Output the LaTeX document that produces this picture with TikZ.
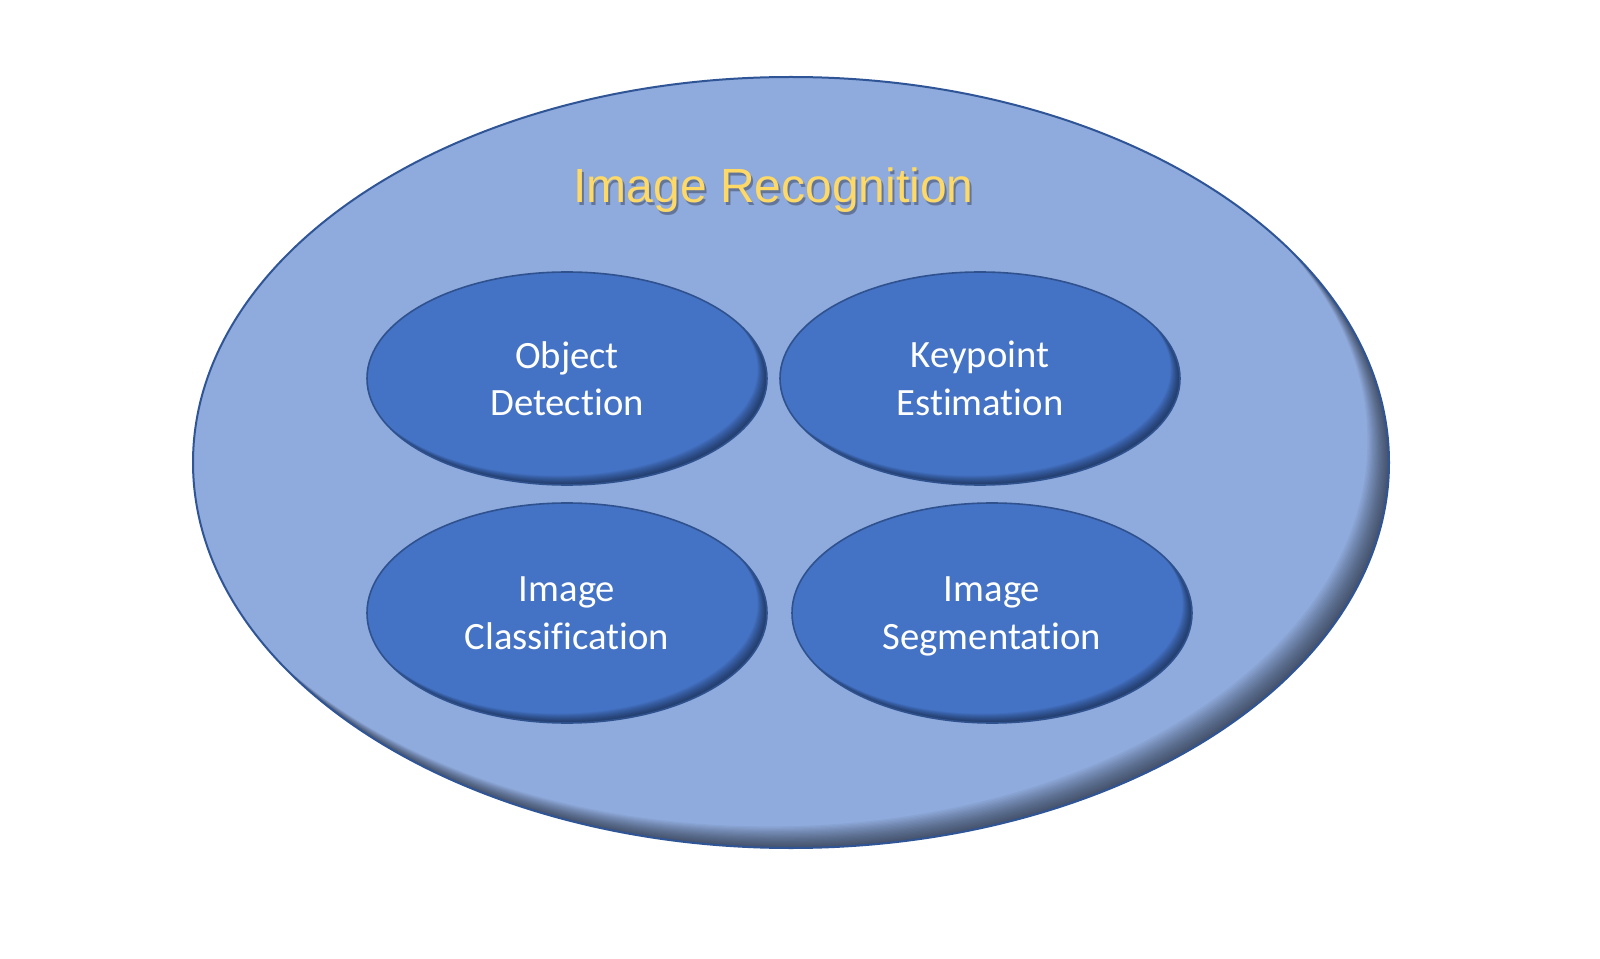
\documentclass[tikz,border=0pt]{standalone}
\usepackage{fontspec}
\setmainfont{Carlito}[Ligatures=NoCommon]
\newfontfamily\titlefont{Liberation Sans}
\usetikzlibrary{shapes.geometric}
\definecolor{outerfill}{HTML}{8FAADC}
\definecolor{outerline}{HTML}{2F5597}
\definecolor{innerfill}{HTML}{4472C4}
\definecolor{innerline}{HTML}{2F528F}
\definecolor{titlecol}{HTML}{FFD966}
\tikzset{
  inshadow/.style n args={5}{path picture={
    \foreach \k in {1,...,#5}{
      \fill[black,opacity=#4,even odd rule]
        ([shift={(-60pt,60pt)}]path picture bounding box.north west) rectangle ([shift={(60pt,-60pt)}]path picture bounding box.south east)
        ([shift={(-\k*#3,\k*#3)}]path picture bounding box.center) ellipse [x radius=#1,y radius=#2];
    }}},
  outerell/.style={ellipse, draw=outerline, line width=1.5pt, fill=outerfill, inner sep=0pt,
    minimum width=897pt, minimum height=578.25pt, inshadow={448.5pt}{289.1pt}{0.9pt}{0.035}{18}},
  innerell/.style n args={2}{ellipse, draw=innerline, line width=1.2pt, fill=innerfill, inner sep=0pt,
    minimum width=300pt, minimum height=#1, inshadow={150pt}{#2}{0.5pt}{0.04}{14},
    text=white, align=center, font=\fontsize{29}{35.8}\selectfont, text depth=0pt},
  titletext/.style={font=\titlefont\fontsize{36}{43}\selectfont, anchor=base},
}
\begin{document}
\begin{tikzpicture}[x=0.75pt,y=-0.75pt]
\useasboundingbox[fill=white] (0,0) rectangle (1600,959);
\node[outerell] (rec) at (791,462.5) {};
\node[titletext, text=black, opacity=0.3] (titleshadow) at (775.5,205.5) {Image Recognition};
\node[titletext, text=titlecol] (title) at (773.5,203) {Image Recognition};
\node[innerell={159.75pt}{79.9pt}] (od) at (567,378.5) {Object\\Detection};
\node[innerell={159.75pt}{79.9pt}] (ke) at (980,378.5) {Keypoint\\Estimation};
\node[innerell={165pt}{82.5pt}] (ic) at (567,613) {Image\\Classification};
\node[innerell={165pt}{82.5pt}] (is) at (992,613) {Image\\Segmentation};
\end{tikzpicture}
\end{document}
